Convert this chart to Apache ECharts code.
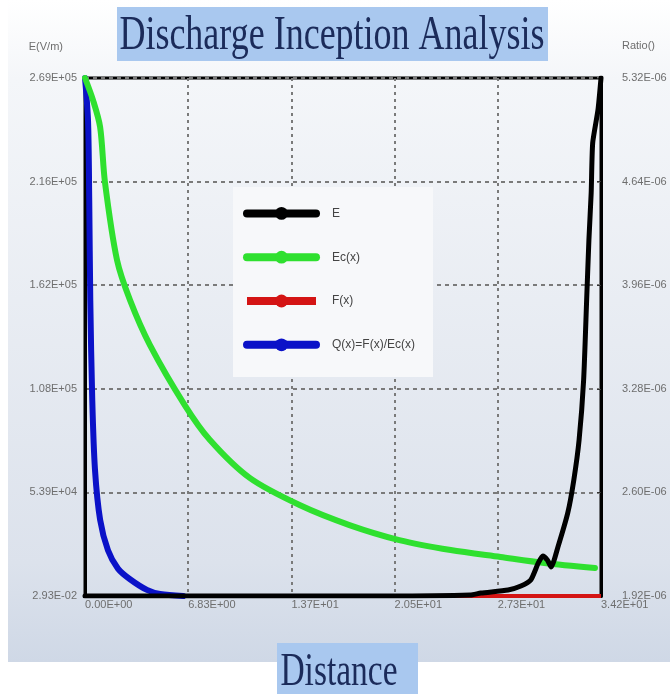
<!DOCTYPE html>
<html>
<head>
<meta charset="utf-8">
<script src="https://cdn.jsdelivr.net/npm/echarts@6/dist/echarts.min.js"></script>
<style>
html,body{margin:0;padding:0;background:#ffffff;}
#chart{width:670px;height:694px;}
</style>
</head>
<body>
<div id="chart"></div>
<script>
// Tick labels
const xLabels = ["0.00E+00", "6.83E+00", "1.37E+01", "2.05E+01", "2.73E+01", "3.42E+01"];
const leftLabels = ["2.93E-02", "5.39E+04", "1.08E+05", "1.62E+05", "2.16E+05", "2.69E+05"];
const rightLabels = ["1.92E-06", "2.60E-06", "3.28E-06", "3.96E-06", "4.64E-06", "5.32E-06"];
const seriesNames = ["E", "Ec(x)", "F(x)", "Q(x)=F(x)/Ec(x)"];

// Series values [distance, value]
const eData = [[0,0],[10,0],[20,0],[25.5,500],[26.2,1560],[28.0,3120],[28.85,5200],[29.5,8320],[30.0,17200],[30.3,20800],[30.6,18700],[30.85,15100],[31.3,25500],[31.95,43200],[32.35,60300],[32.7,81100],[33.0,112300],[33.2,153900],[33.35,185200],[33.5,209600],[33.6,235600],[33.95,252800],[34.15,269400]];
const ecData = [[0,269400],[0.53,257900],[1.0,243900],[1.32,215300],[2.12,174700],[2.98,153900],[4.3,130500],[6.6,99300],[8.27,81100],[10.9,61400],[14.2,47300],[17.5,36900],[20.8,29100],[24.2,23900],[27.5,20300],[30.4,17200],[33.75,14600]];
const fData = [[0,0],[34.15,0]];
const qData = [[0,5.32e-6],[0.2,5.04e-6],[0.28,4.52e-6],[0.35,3.86e-6],[0.48,3.21e-6],[0.66,2.75e-6],[1.0,2.42e-6],[1.52,2.22e-6],[2.18,2.10e-6],[2.98,2.03e-6],[4.1,1.96e-6],[4.97,1.933e-6],[6.5,1.92e-6]];

const chart = echarts.init(document.getElementById('chart'), null, {renderer: 'canvas'});
const labelFont = {fontSize: 11, color: '#6e6e6e', fontFamily: 'Liberation Sans'};
const option = {
  animation: false,
  backgroundColor: '#ffffff',
  graphic: [
    {type: 'rect', z: -10, shape: {x: 8, y: 0, width: 662, height: 662},
     style: {fill: new echarts.graphic.LinearGradient(0, 0, 0, 1, [
       {offset: 0, color: '#ffffff'}, {offset: 0.12, color: '#f4f6f9'},
       {offset: 0.85, color: '#dce2ec'}, {offset: 1, color: '#cfd8e6'}])}},
    {type: 'rect', z: 3, shape: {x: 233, y: 187, width: 200, height: 190}, style: {fill: '#f7f8fa'}},
    {type: 'rect', z: 5, shape: {x: 117, y: 7, width: 431, height: 54}, style: {fill: '#a9c8ef'}},
    {type: 'text', z: 6, x: 332, y: 36, scaleY: 1.33,
     style: {text: 'Discharge Inception Analysis', fontSize: 36, fontFamily: 'Liberation Serif', fill: '#1b2b5a', align: 'center', verticalAlign: 'middle'}},
    {type: 'rect', z: 5, shape: {x: 277, y: 643, width: 141, height: 51}, style: {fill: '#a9c8ef'}},
    {type: 'text', z: 6, x: 339, y: 673, scaleY: 1.4,
     style: {text: 'Distance', fontSize: 33.5, fontFamily: 'Liberation Serif', fill: '#1b2b5a', align: 'center', verticalAlign: 'middle'}}
  ],
  grid: {left: 85, right: 69, top: 78, bottom: 98, show: true, borderColor: '#000', borderWidth: 3, backgroundColor: 'transparent'},
  legend: {
    data: seriesNames, orient: 'vertical', left: 238, top: 202, itemWidth: 69, itemHeight: 16, itemGap: 31, z: 4,
    lineStyle: {width: 8},
    textStyle: {fontSize: 12, color: '#444', fontFamily: 'Liberation Sans', padding: [0,0,0,11]}
  },
  xAxis: {
    type: 'value', min: 0, max: 34.15, interval: 6.83,
    axisLine: {show: true, lineStyle: {color: '#000', width: 3}},
    axisTick: {show: false},
    splitLine: {show: true, lineStyle: {color: '#7a7a7a', type: [3, 4], width: 2}},
    axisLabel: Object.assign({margin: 3, align: 'left', formatter: function (v) { return xLabels[Math.round(v / 6.83)]; }}, labelFont)
  },
  yAxis: [
    {
      type: 'value', min: 0, max: 269400, interval: 53880, position: 'left',
      name: 'E(V/m)', nameLocation: 'end', nameGap: 26,
      nameTextStyle: Object.assign({align: 'right', padding: [0, 22, 0, 0]}, labelFont),
      axisLine: {show: true, lineStyle: {color: '#000', width: 3}},
      axisTick: {show: false},
      splitLine: {show: true, lineStyle: {color: '#7a7a7a', type: [4, 4], width: 2}},
      axisLabel: Object.assign({margin: 8, padding: [0,0,7,0], formatter: function (v) { return leftLabels[Math.round(v / 53880)]; }}, labelFont)
    },
    {
      type: 'value', min: 1.92e-6, max: 5.32e-6, alignTicks: true, position: 'right',
      name: 'Ratio()', nameLocation: 'end', nameGap: 27,
      nameTextStyle: Object.assign({align: 'left', padding: [0, 0, 0, 21]}, labelFont),
      axisLine: {show: true, lineStyle: {color: '#000', width: 3}},
      axisTick: {show: true, inside: true, length: 4, lineStyle: {color: '#333'}},
      splitLine: {show: false},
      axisLabel: Object.assign({margin: 21, padding: [0,0,8,0], formatter: function (v) { return rightLabels[Math.round((v - 1.92e-6) / 0.68e-6)]; }}, labelFont)
    }
  ],
  series: [
    {name: seriesNames[0], type: 'line', data: eData, yAxisIndex: 0, z: 6, smooth: 0.2, showSymbol: false, symbol: 'circle',
     lineStyle: {color: '#000000', width: 5, cap: 'round', join: 'round'}, itemStyle: {color: '#000000'}},
    {name: seriesNames[1], type: 'line', data: ecData, yAxisIndex: 0, z: 5, smooth: 0.3, showSymbol: false, symbol: 'circle',
     lineStyle: {color: '#2fe02f', width: 6, cap: 'round', join: 'round'}, itemStyle: {color: '#2fe02f'}},
    {name: seriesNames[2], type: 'line', data: fData, yAxisIndex: 0, z: 2, showSymbol: false, symbol: 'circle',
     lineStyle: {color: '#d41414', width: 4}, itemStyle: {color: '#d41414'}},
    {name: seriesNames[3], type: 'line', data: qData, yAxisIndex: 1, z: 4, smooth: 0.3, showSymbol: false, symbol: 'circle',
     lineStyle: {color: '#0b12c8', width: 6, cap: 'round', join: 'round'}, itemStyle: {color: '#0b12c8'}}
  ]
};
chart.setOption(option);
</script>
</body>
</html>
